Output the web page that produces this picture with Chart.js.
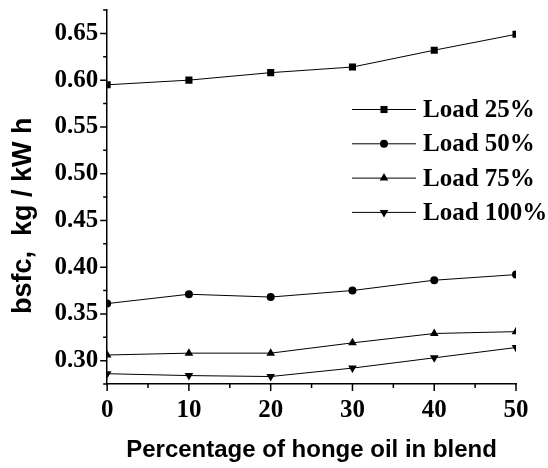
<!DOCTYPE html>
<html>
<head>
<meta charset="utf-8">
<title>bsfc vs honge oil blend</title>
<script src="https://cdn.jsdelivr.net/npm/chart.js@4.4.1/dist/chart.umd.min.js"></script>
<style>
  html, body { margin: 0; padding: 0; background: #fff; }
  .chart-container { position: relative; width: 548px; height: 468px; }
</style>
</head>
<body>
<div class="chart-container"><canvas id="chart"></canvas></div>
<script>
  // values
  const blendPercent = [0, 10, 20, 30, 40, 50];
  const load25 = [0.595, 0.600, 0.608, 0.614, 0.632, 0.649];
  const load50 = [0.361, 0.371, 0.368, 0.375, 0.386, 0.392];
  const load75 = [0.306, 0.308, 0.308, 0.319, 0.329, 0.331];
  const load100 = [0.286, 0.284, 0.283, 0.292, 0.303, 0.314];

  const seriesLabels = ['Load 25%', 'Load 50%', 'Load 75%', 'Load 100%'];

  const xTicks = [0, 10, 20, 30, 40, 50];
  const xMinorTicks = [5, 15, 25, 35, 45];
  const yTicks = [0.30, 0.35, 0.40, 0.45, 0.50, 0.55, 0.60, 0.65];
  const yMinorTicks = [0.275, 0.325, 0.375, 0.425, 0.475, 0.525, 0.575, 0.625, 0.675];

  (() => {
    'use strict';

    const SERIF = '"Liberation Serif", "Times New Roman", serif';
    const SANS = '"Liberation Sans", Arial, sans-serif';

    const markers = [
      { pointStyle: 'rect', radius: 5, rotation: 0 },
      { pointStyle: 'circle', radius: 4, rotation: 0 },
      { pointStyle: 'triangle', radius: 5, rotation: 0 },
      { pointStyle: 'triangle', radius: 5, rotation: 180 }
    ];

    /**
     * Builds {x, y} points from the blend percentages
     *
     * @param {Number[]} values series values
     * @returns {Object[]} points
     */
    const toPoints = (values) => values.map((v, i) => ({ x: blendPercent[i], y: v }));

    const datasets = [load25, load50, load75, load100].map((values, i) => ({
      label: seriesLabels[i],
      data: toPoints(values),
      borderColor: '#000',
      backgroundColor: '#000',
      borderWidth: 1,
      pointStyle: markers[i].pointStyle,
      pointRadius: markers[i].radius,
      pointRotation: markers[i].rotation,
      pointBorderWidth: 0,
      pointBackgroundColor: '#000',
      tension: 0,
      clip: 0
    }));

    /**
     * Draws major and minor tick marks outside the axes
     */
    const tickMarks = {
      id: 'tickMarks',
      afterDraw(chart) {
        const ctx = chart.ctx;
        const x = chart.scales.x;
        const y = chart.scales.y;
        ctx.save();
        ctx.strokeStyle = '#000';
        ctx.lineWidth = 1.5;
        ctx.beginPath();
        yTicks.forEach((v) => {
          const py = y.getPixelForValue(v);
          ctx.moveTo(x.left - 7, py);
          ctx.lineTo(x.left, py);
        });
        yMinorTicks.forEach((v) => {
          const py = y.getPixelForValue(v);
          ctx.moveTo(x.left - 4, py);
          ctx.lineTo(x.left, py);
        });
        xTicks.forEach((v) => {
          const px = x.getPixelForValue(v);
          ctx.moveTo(px, y.bottom);
          ctx.lineTo(px, y.bottom + 7);
        });
        xMinorTicks.forEach((v) => {
          const px = x.getPixelForValue(v);
          ctx.moveTo(px, y.bottom);
          ctx.lineTo(px, y.bottom + 4);
        });
        ctx.stroke();
        ctx.restore();
      }
    };

    /**
     * Draws the legend inside the plot area
     */
    const insideLegend = {
      id: 'insideLegend',
      afterDraw(chart) {
        const ctx = chart.ctx;
        const area = chart.chartArea;
        const lineStart = area.right - 164;
        const lineEnd = area.right - 100;
        const textX = area.right - 93;
        const rowTop = area.top + 99.5;
        const rowGap = 34.3;
        ctx.save();
        ctx.font = `bold 25px ${SERIF}`;
        ctx.textBaseline = 'middle';
        ctx.textAlign = 'left';
        chart.data.datasets.forEach((ds, i) => {
          const cy = rowTop + i * rowGap;
          ctx.strokeStyle = '#000';
          ctx.fillStyle = '#000';
          ctx.lineWidth = 1;
          ctx.beginPath();
          ctx.moveTo(lineStart, cy);
          ctx.lineTo(lineEnd, cy);
          ctx.stroke();
          Chart.helpers.drawPoint(ctx, {
            pointStyle: ds.pointStyle,
            radius: ds.pointRadius,
            rotation: ds.pointRotation,
            borderWidth: 0
          }, (lineStart + lineEnd) / 2, cy);
          ctx.fillStyle = '#000';
          ctx.fillText(ds.label, textX, cy + 1);
        });
        ctx.restore();
      }
    };

    const context = document.getElementById('chart').getContext('2d');

    new Chart(context, {
      type: 'line',
      data: { datasets: datasets },
      plugins: [tickMarks, insideLegend],
      options: {
        responsive: true,
        maintainAspectRatio: false,
        devicePixelRatio: 1,
        animation: false,
        layout: { padding: { top: 10, right: 32, left: 0, bottom: 0 } },
        plugins: {
          legend: { display: false },
          tooltip: { enabled: false }
        },
        scales: {
          x: {
            type: 'linear',
            min: 0,
            max: 50,
            afterBuildTicks: (scale) => {
              scale.ticks = xTicks.map((v) => ({ value: v }));
            },
            afterFit: (scale) => {
              scale.paddingLeft = 0;
              scale.paddingRight = 0;
            },
            grid: { display: false, drawTicks: false },
            border: { display: true, color: '#000', width: 1.5 },
            ticks: {
              color: '#000',
              padding: 12,
              maxRotation: 0,
              font: { family: SERIF, size: 25, weight: 'bold' },
              callback: (v) => String(v)
            },
            title: {
              display: true,
              text: 'Percentage of honge oil in blend',
              color: '#000',
              font: { family: SANS, size: 24, weight: 'bold', lineHeight: 1 },
              padding: { top: 0, bottom: 6 }
            }
          },
          y: {
            type: 'linear',
            min: 0.275,
            max: 0.675,
            afterBuildTicks: (scale) => {
              scale.ticks = yTicks.map((v) => ({ value: v }));
            },
            afterFit: (scale) => {
              scale.paddingTop = 0;
              scale.paddingBottom = 0;
            },
            grid: { display: false, drawTicks: false },
            border: { display: true, color: '#000', width: 1.5 },
            ticks: {
              color: '#000',
              padding: 9,
              font: { family: SERIF, size: 25, weight: 'bold' },
              callback: (v) => Number(v).toFixed(2)
            },
            title: {
              display: true,
              text: 'bsfc,  kg / kW h     ',
              color: '#000',
              font: { family: SANS, size: 27, weight: 'bold' },
              padding: { top: 7, bottom: 6 }
            }
          }
        }
      }
    });
  })();
</script>
</body>
</html>
